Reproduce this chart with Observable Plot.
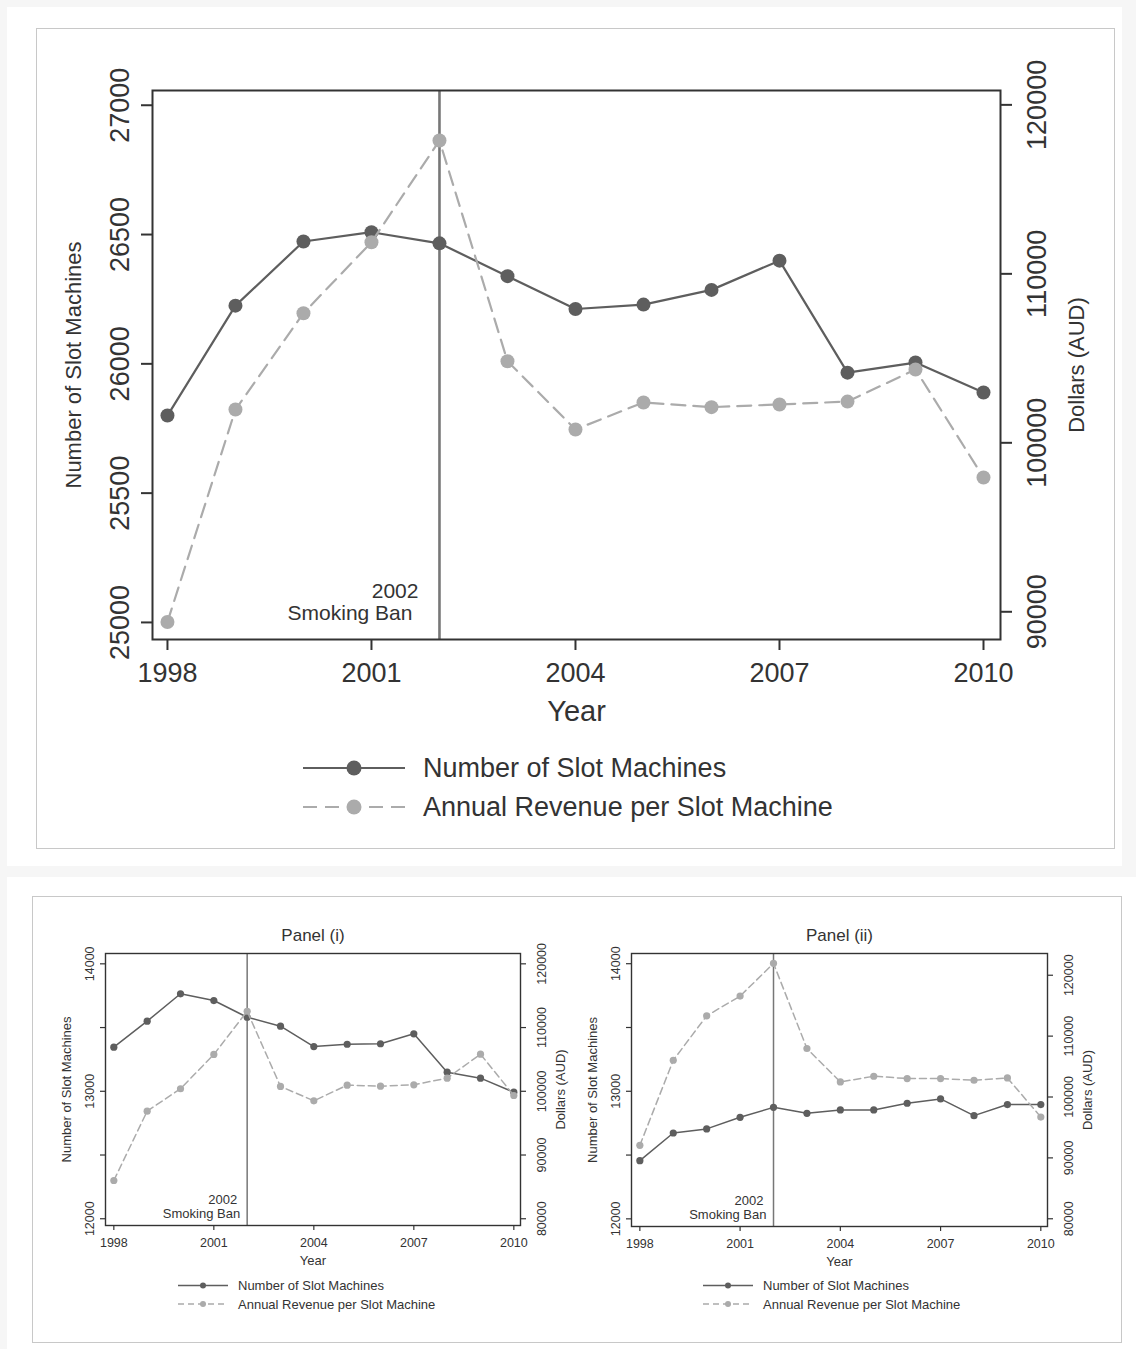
<!DOCTYPE html>
<html>
<head>
<meta charset="utf-8">
<script src="https://cdn.jsdelivr.net/npm/d3@7"></script>
<script src="https://cdn.jsdelivr.net/npm/@observablehq/plot@0.6"></script>
<style>
  html, body { margin: 0; padding: 0; }
  body { width: 1136px; height: 1349px; position: relative; overflow: hidden; background: #f6f6f6;
         font-family: "Liberation Sans", Arial, Helvetica, sans-serif; }
  .card { position: absolute; background: #ffffff; }
  .box { position: absolute; border: 1.5px solid #c8c8c8; box-sizing: border-box; }
  .abs { position: absolute; }
</style>
</head>
<body>
<div class="card" style="left:7px;top:7px;width:1115px;height:859px"></div>
<div class="box" style="left:36px;top:28px;width:1079px;height:821px"></div>
<div class="card" style="left:7px;top:877px;width:1129px;height:472px"></div>
<div class="box" style="left:32px;top:896px;width:1090px;height:447px"></div>
<div id="top" class="abs" style="left:0px;top:0px"></div>
<div id="topLegend" class="abs" style="left:290px;top:745px"></div>
<div id="p1" class="abs" style="left:40px;top:910px"></div>
<div id="p2" class="abs" style="left:566px;top:910px"></div>
<div id="p1Legend" class="abs" style="left:170px;top:1272px"></div>
<div id="p2Legend" class="abs" style="left:695px;top:1272px"></div>
<script>
// ---------------- data ----------------
const years = [1998, 1999, 2000, 2001, 2002, 2003, 2004, 2005, 2006, 2007, 2008, 2009, 2010];
const banYear = 2002;
const banLabel = "Smoking Ban";

// Main panel (all venues)
const slotsAll   = [25800, 26225, 26473, 26509, 26466, 26339, 26212, 26229, 26286, 26399, 25966, 26005, 25889];
const revenueAll = [89400, 101970, 107670, 111870, 117890, 104830, 100790, 102390, 102110, 102270, 102440, 104340, 97950];

// Panel (i)
const slotsPanel1   = [13346, 13550, 13765, 13712, 13581, 13511, 13351, 13369, 13373, 13451, 13150, 13103, 12993];
const revenuePanel1 = [86000, 96880, 100400, 105780, 112560, 100760, 98500, 100960, 100800, 101020, 102060, 105820, 99340];

// Panel (ii)
const slotsPanel2   = [12456, 12673, 12705, 12796, 12874, 12827, 12854, 12854, 12906, 12940, 12809, 12896, 12896];
const revenuePanel2 = [92060, 106040, 113330, 116570, 121950, 107970, 102470, 103410, 103030, 103030, 102750, 103130, 96710];

// Tick values
const xTicks = [1998, 2001, 2004, 2007, 2010];
const mainLeftTicks = [25000, 25500, 26000, 26500, 27000];
const mainRightTicks = [90000, 100000, 110000, 120000];
const panelLeftTicks = [12000, 12500, 13000, 13500, 14000];
const panelLeftLabelled = [12000, 13000, 14000];
const panelRightTicks = [80000, 90000, 100000, 110000, 120000];

// Text
const xTitle = "Year";
const leftTitle = "Number of Slot Machines";
const rightTitle = "Dollars (AUD)";
const seriesNames = ["Number of Slot Machines", "Annual Revenue per Slot Machine"];
const panelTitles = ["Panel (i)", "Panel (ii)"];

// ---------------- styles ----------------
const FONT = '"Liberation Sans", Arial, Helvetica, sans-serif';
const DARK = "#5e5e5e";
const LIGHT = "#ababab";
const INK = "#333333";

function dualChart(cfg) {
  const toLeft = d3.scaleLinear().domain(cfg.rightDomain).range(cfg.leftDomain);
  const slotRows = cfg.years.map((year, i) => ({year, value: cfg.slots[i]}));
  const revRows = cfg.years.map((year, i) => ({year, value: toLeft(cfg.revenue[i])}));
  const txt = {fill: INK, textAnchor: "middle", lineAnchor: "middle"};
  const marks = [
    Plot.ruleX([cfg.banYear], {x: d => d, stroke: "#777", strokeWidth: cfg.banWidth}),
    Plot.line(slotRows, {x: "year", y: "value", stroke: DARK, strokeWidth: cfg.lineWidth}),
    Plot.dot(slotRows, {x: "year", y: "value", r: cfg.r, fill: DARK}),
    Plot.line(revRows, {x: "year", y: "value", stroke: LIGHT, strokeWidth: cfg.lineWidth, strokeDasharray: cfg.dash}),
    Plot.dot(revRows, {x: "year", y: "value", r: cfg.r, fill: LIGHT}),
    Plot.frame({stroke: INK, strokeWidth: cfg.frameWidth}),
    Plot.axisX(cfg.xTicks, {tickSize: cfg.tickSize, tickPadding: cfg.xPad, tickFormat: d => String(d),
      fontSize: cfg.tickFont, strokeWidth: cfg.tickWidth, label: null}),
    Plot.axisY(cfg.leftTicks, {anchor: "left", tickSize: cfg.tickSize, tickPadding: cfg.leftPad, tickRotate: -90,
      textAnchor: "middle", lineAnchor: "bottom",
      tickFormat: d => (cfg.leftLabelled.includes(d) ? String(d) : ""),
      fontSize: cfg.tickFont, strokeWidth: cfg.tickWidth, label: null}),
    Plot.axisY(cfg.rightTicks.map(v => toLeft(v)), {anchor: "right", tickSize: cfg.tickSize, tickPadding: cfg.rightPad,
      tickRotate: -90, textAnchor: "middle", lineAnchor: "top",
      tickFormat: d => String(Math.round(toLeft.invert(d) / 10) * 10),
      fontSize: cfg.tickFont, strokeWidth: cfg.tickWidth, label: null}),
    Plot.text([xTitle], {...txt, frameAnchor: "bottom", text: d => d, dy: cfg.xTitleDy, fontSize: cfg.xTitleFont}),
    Plot.text([leftTitle], {...txt, frameAnchor: "left", text: d => d, rotate: -90, dx: cfg.leftTitleDx, fontSize: cfg.titleFont}),
    Plot.text([rightTitle], {...txt, frameAnchor: "right", text: d => d, rotate: -90, dx: cfg.rightTitleDx, fontSize: cfg.titleFont}),
    Plot.text([cfg.banYear], {...txt, x: d => d, frameAnchor: "bottom", text: d => String(d), textAnchor: "end",
      dx: cfg.banYearDx, dy: cfg.banYearDy, fontSize: cfg.annFont}),
    Plot.text([cfg.banYear], {...txt, x: d => d, frameAnchor: "bottom", text: () => banLabel, textAnchor: "end",
      dx: cfg.banLabelDx, dy: cfg.banLabelDy, fontSize: cfg.annFont})
  ];
  if (cfg.title) {
    marks.push(Plot.text([cfg.title], {...txt, frameAnchor: "top", text: d => d, dy: cfg.titleDy, fontSize: cfg.panelTitleFont}));
  }
  return Plot.plot({
    width: cfg.width, height: cfg.height,
    marginLeft: cfg.mL, marginRight: cfg.mR, marginTop: cfg.mT, marginBottom: cfg.mB,
    x: {type: "linear", domain: cfg.xDomain, label: null},
    y: {type: "linear", domain: cfg.leftDomain, label: null},
    style: {fontFamily: FONT, color: INK, background: "transparent", overflow: "visible"},
    marks
  });
}

function legend(el, cfg) {
  const svg = d3.create("svg").attr("width", cfg.w).attr("height", cfg.h)
    .style("overflow", "visible").style("font-family", FONT);
  seriesNames.forEach((name, i) => {
    const y = cfg.y[i];
    svg.append("line").attr("x1", cfg.x1).attr("x2", cfg.x2).attr("y1", y).attr("y2", y)
      .attr("stroke", i === 0 ? DARK : LIGHT).attr("stroke-width", cfg.lw)
      .attr("stroke-dasharray", i === 0 ? null : cfg.dash);
    svg.append("circle").attr("cx", (cfg.x1 + cfg.x2) / 2).attr("cy", y).attr("r", cfg.r)
      .attr("fill", i === 0 ? DARK : LIGHT);
    svg.append("text").attr("x", cfg.xt).attr("y", y).attr("dy", "0.35em")
      .attr("font-size", cfg.fs).attr("fill", INK).text(name);
  });
  el.appendChild(svg.node());
}

// ---------------- main chart ----------------
document.getElementById("top").appendChild(dualChart({
  years, slots: slotsAll, revenue: revenueAll, banYear, xTicks,
  leftTicks: mainLeftTicks, leftLabelled: mainLeftTicks, rightTicks: mainRightTicks,
  leftDomain: [24934, 27057], rightDomain: [88360, 120850], xDomain: [1997.78, 2010.25],
  width: 1136, height: 740, mL: 152, mR: 136, mT: 90, mB: 101,
  r: 7, lineWidth: 2.2, dash: "14,8", banWidth: 2.6, frameWidth: 2, tickWidth: 2,
  tickSize: 11, xPad: 12, leftPad: 13, rightPad: 15, tickFont: 27,
  xTitleDy: 72, xTitleFont: 29, titleFont: 22, leftTitleDx: -79, rightTitleDx: 76,
  annFont: 21, banYearDx: -21, banYearDy: -48, banLabelDx: -27, banLabelDy: -26
}));
legend(document.getElementById("topLegend"), {
  w: 580, h: 80, x1: 13, x2: 115, xt: 133, y: [23, 62], r: 7.5, lw: 2.2, dash: "14,8", fs: 27
});

// ---------------- panels ----------------
const panelBase = {
  years, banYear, xTicks,
  leftTicks: panelLeftTicks, leftLabelled: panelLeftLabelled, rightTicks: panelRightTicks,
  xDomain: [1997.75, 2010.2],
  width: 530, height: 360, mL: 65, mT: 43,
  r: 3.6, lineWidth: 1.5, dash: "7,4", banWidth: 1.5, frameWidth: 1.4, tickWidth: 1.2,
  tickSize: 5, xPad: 8, leftPad: 7, rightPad: 12, tickFont: 12.5,
  xTitleDy: 35, xTitleFont: 13, titleFont: 13, leftTitleDx: -39, rightTitleDx: 40,
  annFont: 13, banYearDx: -10, banYearDy: -26, banLabelDx: -7, banLabelDy: -12,
  titleDy: -18, panelTitleFont: 17
};
document.getElementById("p1").appendChild(dualChart({
  ...panelBase, slots: slotsPanel1, revenue: revenuePanel1, title: panelTitles[0],
  leftDomain: [11947, 14081], rightDomain: [78940, 121620], mR: 50, mB: 45
}));
document.getElementById("p2").appendChild(dualChart({
  ...panelBase, slots: slotsPanel2, revenue: revenuePanel2, title: panelTitles[1],
  leftDomain: [11940, 14080], rightDomain: [78730, 123570], mR: 49, mB: 44
}));
const panelLegend = {w: 320, h: 45, x1: 8, x2: 58, xt: 68, y: [13.5, 32], r: 3, lw: 1.3, dash: "6,4", fs: 13};
legend(document.getElementById("p1Legend"), panelLegend);
legend(document.getElementById("p2Legend"), panelLegend);
</script>
</body>
</html>
